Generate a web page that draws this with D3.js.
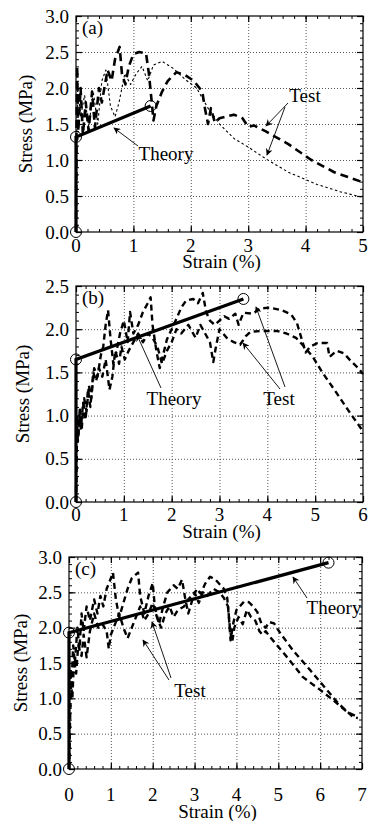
<!DOCTYPE html>
<html>
<head>
<meta charset="utf-8">
<script src="https://cdn.jsdelivr.net/npm/d3@7"></script>
<style>
  body { margin: 0; background: #fff; }
  svg { display: block; }
</style>
</head>
<body>
<script>
// ---- panel (a) ----
const aStrainTicks = [0, 1, 2, 3, 4, 5];
const aStressTicks = [0, 0.5, 1.0, 1.5, 2.0, 2.5, 3.0];
const aTheoryStrain = [0, 0, 1.3];
const aTheoryStress = [0, 1.32, 1.75];
const aTestHeavyStrain = [0, 0.01, 0.02, 0.04, 0.08, 0.12, 0.17, 0.22, 0.28, 0.33, 0.4, 0.45, 0.55, 0.62, 0.68, 0.76, 0.8, 0.86, 0.92, 1.0, 1.1, 1.22, 1.27, 1.32, 1.35, 1.4, 1.5, 1.6, 1.75, 1.9, 2.05, 2.2, 2.25, 2.3, 2.35, 2.42, 2.5, 2.6, 2.75, 2.9, 3.0, 3.1, 3.3, 3.7, 4.1, 4.5, 5.0];
const aTestHeavyStress = [0, 1.5, 2.3, 1.4, 2.0, 1.35, 1.8, 1.4, 1.95, 1.45, 2.0, 1.8, 2.25, 2.1, 2.4, 2.57, 2.2, 2.05, 2.3, 2.47, 2.5, 2.48, 2.2, 1.8, 1.55, 1.75, 1.95, 2.1, 2.22, 2.18, 2.1, 1.95, 1.7, 1.5, 1.72, 1.52, 1.58, 1.6, 1.63, 1.58, 1.46, 1.48, 1.4, 1.22, 1.0, 0.83, 0.69];
const aTestThinStrain = [0, 0.01, 0.03, 0.08, 0.15, 0.22, 0.3, 0.38, 0.45, 0.52, 0.6, 0.68, 0.75, 0.85, 0.95, 1.05, 1.15, 1.25, 1.35, 1.5, 1.7, 1.9, 2.1, 2.3, 2.5, 2.75, 3.0, 3.3, 3.7, 4.2, 4.6, 5.0];
const aTestThinStress = [0, 1.2, 2.0, 1.6, 1.9, 1.45, 1.95, 1.5, 2.1, 2.25, 1.75, 1.6, 1.8, 2.2, 2.05, 2.2, 2.3, 2.1, 2.32, 2.37, 2.27, 2.12, 2.0, 1.72, 1.5, 1.3, 1.18, 1.02, 0.83, 0.66, 0.56, 0.48];

// ---- panel (b) ----
const bStrainTicks = [0, 1, 2, 3, 4, 5, 6];
const bStressTicks = [0, 0.5, 1.0, 1.5, 2.0, 2.5];
const bTheoryStrain = [0, 0, 3.5];
const bTheoryStress = [0, 1.65, 2.35];
const bTest1Strain = [0, 0.01, 0.03, 0.05, 0.08, 0.12, 0.17, 0.22, 0.27, 0.32, 0.38, 0.45, 0.52, 0.57, 0.62, 0.67, 0.72, 0.78, 0.85, 0.92, 1.0, 1.08, 1.13, 1.2, 1.3, 1.4, 1.5, 1.56, 1.6, 1.68, 1.75, 1.82, 1.9, 2.0, 2.1, 2.2, 2.3, 2.45, 2.55, 2.65, 2.72, 2.8, 2.9, 3.0, 3.1, 3.2, 3.33, 3.4, 3.5, 3.7, 3.85, 4.05, 4.3, 4.5, 4.62, 4.7, 4.8, 4.9, 5.05, 5.25, 5.3, 5.45, 5.6, 5.75, 5.9, 6.0];
const bTest1Stress = [0, 0.6, 1.0, 0.75, 1.1, 0.85, 1.2, 1.05, 1.35, 1.2, 1.55, 1.45, 1.7, 1.8, 2.05, 2.22, 1.9, 1.6, 1.75, 1.95, 2.1, 1.85, 2.2, 1.95, 2.05, 2.2, 2.3, 2.37, 2.05, 1.75, 1.55, 1.7, 1.88, 2.0, 2.12, 2.25, 2.33, 2.35, 2.3, 2.42, 2.2, 2.1, 2.05, 2.1, 2.15, 2.12, 2.18, 2.05, 2.19, 2.18, 2.24, 2.25, 2.22, 2.17, 2.07, 1.92, 1.73, 1.8, 1.84, 1.84, 1.68, 1.75, 1.72, 1.63, 1.55, 1.48];
const bTest2Strain = [0, 0.02, 0.04, 0.07, 0.1, 0.15, 0.2, 0.25, 0.3, 0.36, 0.42, 0.48, 0.55, 0.62, 0.7, 0.76, 0.82, 0.9, 0.95, 1.02, 1.1, 1.2, 1.3, 1.4, 1.5, 1.6, 1.7, 1.8, 1.9, 2.0, 2.1, 2.2, 2.35, 2.5, 2.6, 2.7, 2.8, 2.87, 2.92, 3.0, 3.15, 3.3, 3.43, 3.55, 3.65, 3.9, 4.2, 4.4, 4.6, 4.8, 4.95, 5.15, 5.45, 5.73, 6.0];
const bTest2Stress = [0, 0.9, 0.7, 1.0, 0.85, 1.15, 0.95, 1.3, 1.1, 1.5, 1.4, 1.55, 1.45, 1.65, 1.3, 1.45, 1.75, 1.6, 1.8, 1.65, 1.75, 1.85, 1.95, 1.85, 1.95, 1.9, 1.8, 1.6, 1.75, 1.85, 2.0, 1.95, 2.05, 1.9, 2.05, 1.95, 1.85, 1.62, 1.78, 2.0, 1.9, 1.85, 1.82, 1.92, 1.97, 1.98, 1.98, 1.95, 1.9, 1.78, 1.68, 1.5, 1.26, 1.03, 0.82];

// ---- panel (c) ----
const cStrainTicks = [0, 1, 2, 3, 4, 5, 6, 7];
const cStressTicks = [0, 0.5, 1.0, 1.5, 2.0, 2.5, 3.0];
const cTheoryStrain = [0, 0, 6.2];
const cTheoryStress = [0, 1.93, 2.92];
const cTest1Strain = [0, 0.02, 0.04, 0.06, 0.1, 0.14, 0.2, 0.25, 0.3, 0.35, 0.42, 0.5, 0.6, 0.68, 0.75, 0.82, 0.9, 1.0, 1.05, 1.12, 1.2, 1.3, 1.4, 1.5, 1.65, 1.7, 1.8, 1.9, 2.0, 2.05, 2.15, 2.25, 2.35, 2.5, 2.6, 2.7, 2.78, 2.85, 2.95, 3.05, 3.15, 3.25, 3.37, 3.5, 3.62, 3.7, 3.78, 3.82, 3.86, 3.92, 4.0, 4.08, 4.18, 4.3, 4.4, 4.5, 4.6, 4.7, 4.78, 4.9, 5.05, 5.35, 5.76, 6.16, 6.43, 6.78, 6.9];
const cTest1Stress = [0, 1.0, 1.4, 1.2, 1.75, 1.5, 2.0, 1.7, 2.2, 1.95, 2.3, 2.1, 2.4, 2.2, 2.45, 2.3, 2.55, 2.7, 2.78, 2.4, 2.15, 2.35, 2.55, 2.7, 2.78, 2.45, 2.2, 2.45, 2.63, 2.3, 2.05, 2.3, 2.5, 2.6, 2.55, 2.68, 2.4, 2.2, 2.4, 2.55, 2.48, 2.62, 2.72, 2.68, 2.6, 2.55, 2.42, 2.15, 1.82, 2.05, 2.25, 2.3, 2.37, 2.36, 2.3, 2.22, 2.05, 2.0, 2.08, 2.06, 1.92, 1.68, 1.4, 1.12, 0.93, 0.74, 0.72];
const cTest2Strain = [0, 0.03, 0.05, 0.08, 0.12, 0.17, 0.22, 0.3, 0.35, 0.42, 0.5, 0.6, 0.7, 0.8, 0.9, 0.95, 1.0, 1.1, 1.2, 1.3, 1.4, 1.5, 1.6, 1.7, 1.8, 1.9, 2.0, 2.1, 2.2, 2.3, 2.4, 2.5, 2.6, 2.75, 2.85, 3.0, 3.1, 3.2, 3.3, 3.45, 3.6, 3.7, 3.8, 3.85, 3.9, 3.95, 4.05, 4.15, 4.25, 4.35, 4.45, 4.55, 4.62, 4.7, 4.8, 5.2, 5.59, 6.0, 6.3, 6.64, 6.85];
const cTest2Stress = [0, 0.8, 1.2, 1.0, 1.55, 1.35, 1.75, 1.6, 1.9, 1.58, 1.95, 2.2, 2.0, 2.05, 1.95, 1.7, 1.9, 2.05, 2.2, 2.0, 1.85, 2.0, 2.15, 2.3, 2.1, 2.2, 2.35, 2.15, 2.0, 2.2, 2.3, 2.15, 2.25, 2.3, 2.4, 2.5, 2.35, 2.5, 2.45, 2.55, 2.5, 2.42, 2.3, 1.95, 1.8, 2.0, 2.15, 2.05, 2.25, 2.15, 2.1, 1.95, 1.9, 1.95, 1.87, 1.59, 1.3, 1.12, 0.98, 0.81, 0.75];

const W = 372, H = 821;
const FONT = 'Liberation Serif';
const svg = d3.select('body').append('svg')
  .attr('width', W).attr('height', H);

const defs = svg.append('defs');
defs.append('marker')
  .attr('id', 'arrow')
  .attr('viewBox', '0 0 10 10')
  .attr('refX', 9).attr('refY', 5)
  .attr('markerWidth', 9).attr('markerHeight', 7)
  .attr('markerUnits', 'userSpaceOnUse')
  .attr('orient', 'auto')
  .append('path').attr('d', 'M0,0L10,5L0,10L3,5Z').attr('fill', '#000');

const zip = (xs, ys) => xs.map((d, i) => [d, ys[i]]);

function label(sel) {
  return sel.attr('font-family', FONT).attr('font-size', 19).attr('fill', '#000').attr('dy', '0.35em');
}

function drawPanel(p) {
  const g = svg.append('g');
  const x = d3.scaleLinear().domain([0, p.xMax]).range([p.left, p.right]);
  const y = d3.scaleLinear().domain([0, p.yMax]).range([p.bottom, p.top]);
  const h = p.bottom - p.top, w = p.right - p.left;

  // dotted grid at major ticks
  g.append('g').attr('transform', 'translate(0,' + p.bottom + ')')
    .call(d3.axisBottom(x).tickValues(p.xTicks.slice(1, -1)).tickSize(-h).tickFormat(''))
    .call(s => s.select('.domain').remove())
    .selectAll('line').attr('stroke', '#555').attr('stroke-dasharray', '1,2');
  g.append('g').attr('transform', 'translate(' + p.left + ',0)')
    .call(d3.axisLeft(y).tickValues(p.yTicks.slice(1, -1)).tickSize(-w).tickFormat(''))
    .call(s => s.select('.domain').remove())
    .selectAll('line').attr('stroke', '#555').attr('stroke-dasharray', '1,2');

  // inward ticks on all four sides
  const xMinor = d3.range(0, p.xMax + 1e-9, 0.2);
  const yMinor = d3.range(0, p.yMax + 1e-9, 0.1);
  const sides = [
    [d3.axisBottom, x, 'translate(0,' + p.bottom + ')'],
    [d3.axisTop, x, 'translate(0,' + p.top + ')'],
    [d3.axisLeft, y, 'translate(' + p.left + ',0)'],
    [d3.axisRight, y, 'translate(' + p.right + ',0)']
  ];
  sides.forEach(([ax, sc, tr], i) => {
    const isX = i < 2;
    g.append('g').attr('transform', tr)
      .call(ax(sc).tickValues(isX ? xMinor : yMinor).tickSize(-3).tickFormat(''))
      .call(s => s.select('.domain').remove())
      .selectAll('line').attr('stroke', '#000').attr('stroke-width', 1);
    g.append('g').attr('transform', tr)
      .call(ax(sc).tickValues(isX ? p.xTicks : p.yTicks).tickSize(-6).tickFormat(''))
      .call(s => s.select('.domain').remove())
      .selectAll('line').attr('stroke', '#000').attr('stroke-width', 1.2);
  });

  // frame
  g.append('rect').attr('x', p.left).attr('y', p.top).attr('width', w).attr('height', h)
    .attr('fill', 'none').attr('stroke', '#000').attr('stroke-width', 1.2);

  // tick labels
  g.selectAll('.xl').data(p.xTicks).join('text')
    .call(label)
    .attr('x', d => x(d)).attr('y', p.tickY)
    .attr('text-anchor', 'middle')
    .text(d => d3.format('d')(d));
  g.selectAll('.yl').data(p.yTicks).join('text')
    .call(label)
    .attr('x', p.left - 7).attr('y', d => y(d))
    .attr('text-anchor', 'end')
    .text(d => d3.format('.1f')(d));

  // axis titles
  g.append('text').call(label)
    .attr('x', (p.left + p.right) / 2 + 2).attr('y', p.titleY)
    .attr('text-anchor', 'middle').text('Strain (%)');
  g.append('text').call(label)
    .attr('transform', 'translate(' + p.yTitleX + ',' + (p.top + p.bottom) / 2 + ') rotate(-90)')
    .attr('text-anchor', 'middle').text('Stress (MPa)');

  // panel tag
  g.append('text').call(label)
    .attr('x', p.left + 6).attr('y', p.top + 11).text(p.tag);

  const line = d3.line().x(d => x(d[0])).y(d => y(d[1]));

  // test curves
  p.tests.forEach(t => {
    g.append('path').datum(zip(t.xs, t.ys))
      .attr('fill', 'none').attr('stroke', '#000')
      .attr('stroke-width', t.width).attr('stroke-dasharray', t.dash)
      .attr('stroke-linejoin', 'round')
      .attr('d', line);
  });

  // theory
  const th = zip(p.theoryX, p.theoryY);
  g.append('path').datum(th)
    .attr('fill', 'none').attr('stroke', '#000').attr('stroke-width', 3.2)
    .attr('d', line);
  g.selectAll('.mk').data(th).join('circle')
    .attr('cx', d => x(d[0])).attr('cy', d => y(d[1])).attr('r', 5.5)
    .attr('fill', 'none').attr('stroke', '#000').attr('stroke-width', 1);

  // annotations
  p.notes.forEach(n => {
    g.append('text').call(label)
      .attr('x', n.x).attr('y', n.y)
      .attr('text-anchor', 'middle').text(n.text);
    n.arrows.forEach(a => {
      g.append('line')
        .attr('x1', a[0]).attr('y1', a[1]).attr('x2', a[2]).attr('y2', a[3])
        .attr('stroke', '#000').attr('stroke-width', 0.9)
        .attr('marker-end', 'url(#arrow)');
    });
  });
}

drawPanel({
  tag: '(a)', left: 76, right: 363, top: 16, bottom: 232, xMax: 5, yMax: 3,
  xTicks: aStrainTicks, yTicks: aStressTicks, tickY: 245, titleY: 261, yTitleX: 25,
  theoryX: aTheoryStrain, theoryY: aTheoryStress,
  tests: [
    { xs: aTestHeavyStrain, ys: aTestHeavyStress, width: 2.6, dash: '8,5' },
    { xs: aTestThinStrain, ys: aTestThinStress, width: 1.1, dash: '2.5,2.5' }
  ],
  notes: [
    { text: 'Theory', x: 166, y: 153, arrows: [[138, 146, 114, 128]] },
    { text: 'Test', x: 305, y: 95, arrows: [[288, 103, 266, 126], [285, 107, 267, 155]] }
  ]
});

drawPanel({
  tag: '(b)', left: 76, right: 363, top: 286, bottom: 502, xMax: 6, yMax: 2.5,
  xTicks: bStrainTicks, yTicks: bStressTicks, tickY: 514, titleY: 531, yTitleX: 22,
  theoryX: bTheoryStrain, theoryY: bTheoryStress,
  tests: [
    { xs: bTest1Strain, ys: bTest1Stress, width: 2.4, dash: '6,4' },
    { xs: bTest2Strain, ys: bTest2Stress, width: 2.4, dash: '6,4' }
  ],
  notes: [
    { text: 'Theory', x: 174, y: 398, arrows: [[161, 388, 137, 335]] },
    { text: 'Test', x: 279, y: 398, arrows: [[285, 387, 256, 307], [280, 389, 243, 343]] }
  ]
});

drawPanel({
  tag: '(c)', left: 69, right: 362, top: 557, bottom: 769, xMax: 7, yMax: 3,
  xTicks: cStrainTicks, yTicks: cStressTicks, tickY: 794, titleY: 811, yTitleX: 20,
  theoryX: cTheoryStrain, theoryY: cTheoryStress,
  tests: [
    { xs: cTest1Strain, ys: cTest1Stress, width: 2.4, dash: '6,4' },
    { xs: cTest2Strain, ys: cTest2Stress, width: 2.4, dash: '6,4' }
  ],
  notes: [
    { text: 'Theory', x: 334, y: 607, arrows: [[307, 598, 293, 577]] },
    { text: 'Test', x: 190, y: 690, arrows: [[169, 680, 143, 640], [171, 678, 152, 622]] }
  ]
});
</script>
</body>
</html>
